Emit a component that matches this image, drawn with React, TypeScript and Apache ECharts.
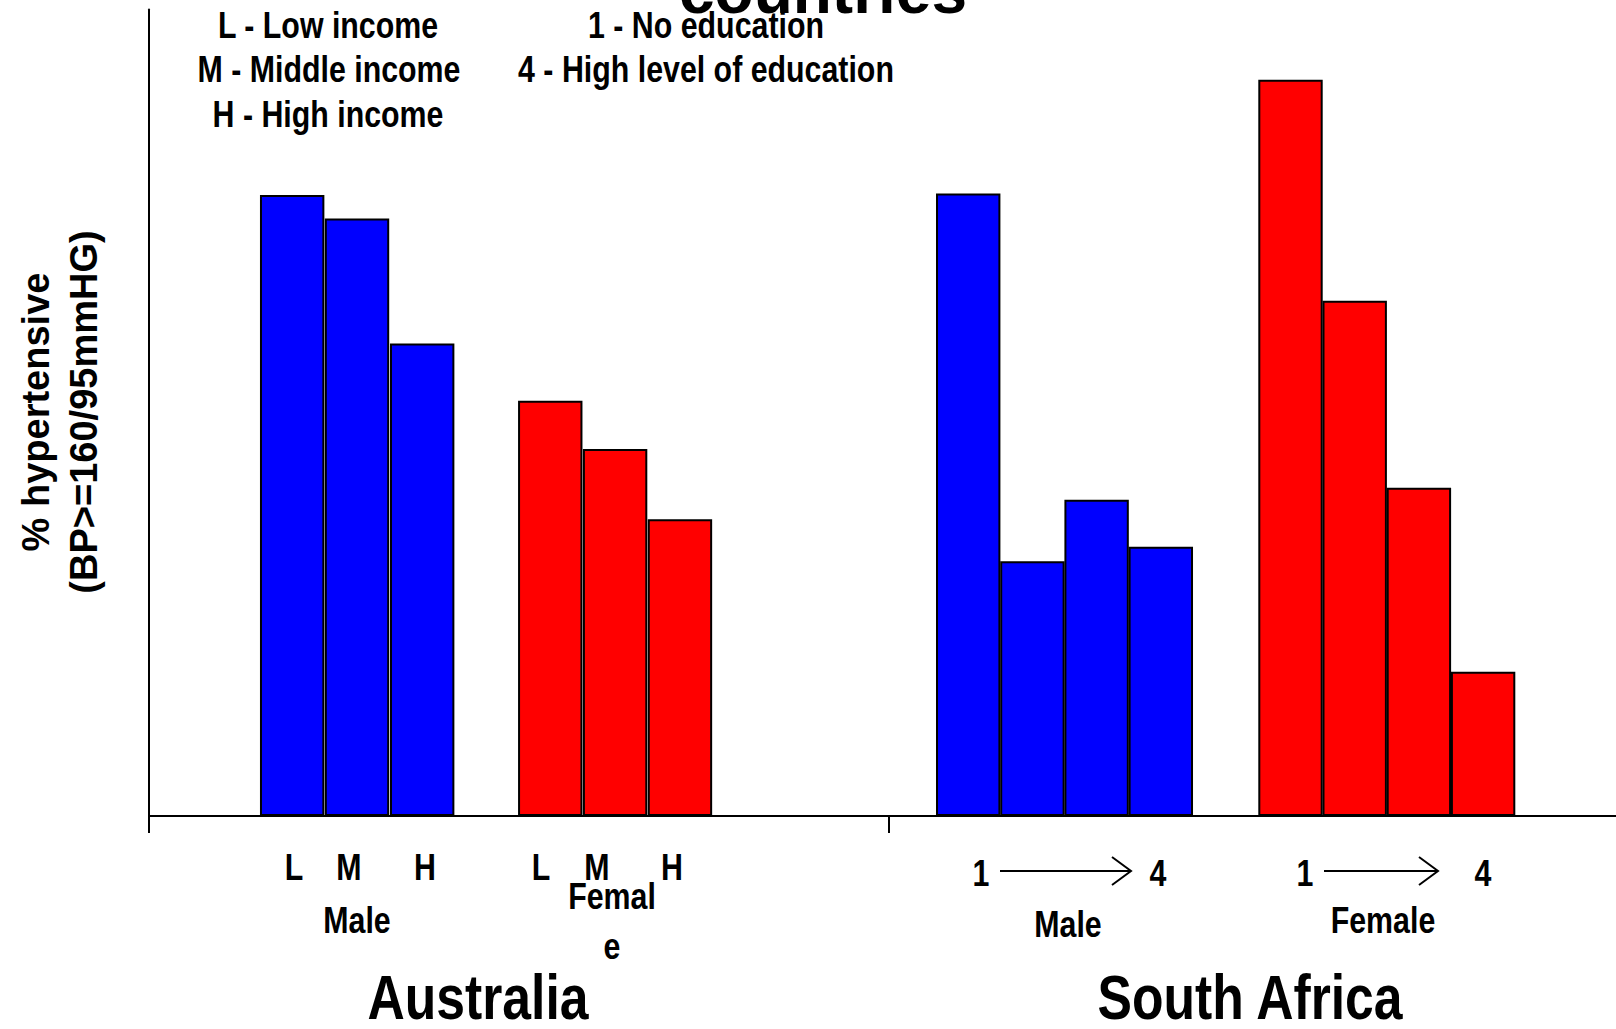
import React, { useEffect, useRef } from "react";
import * as echarts from "echarts";

// Values (% hypertensive, relative scale; axis max = 100)
const ausMale = [77.0, 74.1, 58.6];
const ausFemale = [51.5, 45.5, 36.8];
const saMale = [77.2, 31.6, 39.2, 33.4];
const saFemale = [91.3, 63.9, 40.7, 17.9];

// Bar positions along the x axis (in bar-width units from the y axis)
const ausMalePos = [2.23, 3.24, 4.255];
const ausFemalePos = [6.25, 7.26, 8.27];
const saMalePos = [12.76, 13.76, 14.76, 15.76];
const saFemalePos = [17.78, 18.78, 19.78, 20.78];

const countryTicks = [0, 11.52];
const incomeLabels = ["L", "M", "H"];

const BLUE = "#0000ff";
const RED = "#ff0000";

const NARROW = 'bold 37px "Liberation Sans", Arial, sans-serif';
const BIG = 'bold 63px "Liberation Sans", Arial, sans-serif';

function narrowText(text: string, x: number, y: number, font = NARROW, lineHeight?: number) {
  return {
    type: "text",
    x,
    y,
    scaleX: 0.82,
    style: {
      text,
      font,
      fill: "#000",
      align: "center",
      verticalAlign: "middle",
      ...(lineHeight ? { lineHeight } : {}),
    },
  };
}

function arrow(x1: number, x2: number, y: number) {
  return [
    { type: "line", shape: { x1, y1: y, x2, y2: y }, style: { stroke: "#000", lineWidth: 2 } },
    {
      type: "polyline",
      shape: { points: [[x2 - 19, y - 14], [x2, y], [x2 - 19, y + 14]] },
      style: { stroke: "#000", lineWidth: 2, fill: null },
    },
  ];
}

export default function App() {
  const ref = useRef<HTMLDivElement>(null);
  useEffect(() => {
    if (!ref.current) return;
    const chart = echarts.init(ref.current, null, { renderer: "svg" });

    const data: any[] = [];
    const add = (pos: number[], vals: number[], color: string) =>
      vals.forEach((v, i) => data.push({ value: [pos[i], v], itemStyle: { color } }));
    add(ausMalePos, ausMale, BLUE);
    add(ausFemalePos, ausFemale, RED);
    add(saMalePos, saMale, BLUE);
    add(saFemalePos, saFemale, RED);

    const graphics: any[] = [
      // Title (partly cut off at top, as in the original)
      {
        type: "text",
        x: 823,
        y: -9,
        style: {
          text: "countries",
          font: 'bold 64px "Liberation Sans", Arial, sans-serif',
          fill: "#000",
          align: "center",
          verticalAlign: "middle",
        },
      },
      // Legend text
      narrowText("L - Low income", 328, 25),
      narrowText("M - Middle income", 329, 69),
      narrowText("H - High income", 328, 114),
      narrowText("1 - No education", 706, 25),
      narrowText("4 - High level of education", 706, 69),
      // Y axis title
      {
        type: "text",
        x: 36,
        y: 412,
        rotation: Math.PI / 2,
        style: {
          text: "% hypertensive",
          font: 'bold 38px "Liberation Sans", Arial, sans-serif',
          fill: "#000",
          align: "center",
          verticalAlign: "middle",
        },
      },
      {
        type: "text",
        x: 84,
        y: 412,
        rotation: Math.PI / 2,
        style: {
          text: "(BP>=160/95mmHG)",
          font: 'bold 38px "Liberation Sans", Arial, sans-serif',
          fill: "#000",
          align: "center",
          verticalAlign: "middle",
        },
      },
      // Australia labels
      narrowText(incomeLabels[0], 294, 867),
      narrowText(incomeLabels[1], 349, 867),
      narrowText(incomeLabels[2], 425, 867),
      narrowText(incomeLabels[0], 541, 867),
      narrowText(incomeLabels[1], 597, 867),
      narrowText(incomeLabels[2], 672, 867),
      narrowText("Male", 357, 920),
      narrowText("Femal", 612, 896),
      narrowText("e", 612, 946),
      narrowText("Australia", 478, 997, BIG, 50),
      // South Africa labels
      narrowText("1", 981, 873),
      narrowText("4", 1158, 873),
      ...arrow(1000, 1131, 871),
      narrowText("1", 1305, 873),
      narrowText("4", 1483, 873),
      ...arrow(1324, 1438, 871),
      narrowText("Male", 1068, 924),
      narrowText("Female", 1383, 920),
      narrowText("South Africa", 1250, 997, BIG, 50),
    ];

    chart.setOption({
      animation: false,
      backgroundColor: "#fff",
      grid: { left: 149, right: 0, top: 9.5, bottom: 213, containLabel: false },
      xAxis: {
        type: "value",
        min: 0,
        max: 22.85,
        axisLine: { show: true, onZero: false, lineStyle: { color: "#000", width: 2 } },
        axisTick: {
          show: true,
          customValues: countryTicks,
          length: 17,
          inside: false,
          lineStyle: { color: "#000", width: 2 },
        },
        axisLabel: { show: false },
        splitLine: { show: false },
      },
      yAxis: {
        type: "value",
        min: 0,
        max: 100,
        axisLine: { show: true, lineStyle: { color: "#000", width: 2 } },
        axisTick: { show: false },
        axisLabel: { show: false },
        splitLine: { show: false },
      },
      series: [
        {
          type: "bar",
          data,
          barWidth: 64.4,
          itemStyle: { borderColor: "#000", borderWidth: 2 },
        },
      ],
      graphic: graphics,
    });
    return () => chart.dispose();
  }, []);
  return (
    <div
      ref={ref}
      style={{ position: "fixed", left: 0, top: 0, width: 1616, height: 1029, background: "#fff" }}
    />
  );
}
